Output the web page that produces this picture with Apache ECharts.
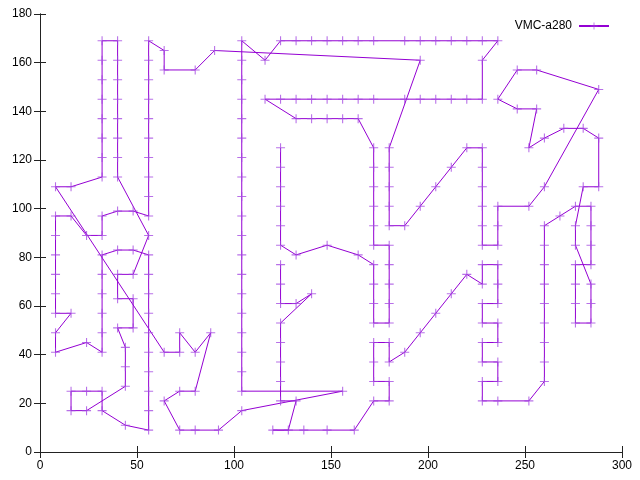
<!DOCTYPE html>
<html><head><meta charset="utf-8">
<script src="https://cdn.jsdelivr.net/npm/echarts@6/dist/echarts.min.js"></script>
<style>html,body{margin:0;padding:0;background:#fff}#c{width:640px;height:480px}</style>
</head><body><div id="c"></div>
<script>
const seriesName = 'VMC-a280';
// tour order, split into consecutive legs ([x, y] city coordinates)
const leg1 = [[124,125],[124,117],[124,109],[124,101],[124,93],[124,85],[132,81],[148,85],[164,81],[172,77],[172,69],[172,61],[172,53],[180,53],[180,61],[180,69],[180,77],[180,85],[172,85],[172,93],[172,101],[172,109],[172,117],[172,125],[164,137],[156,137],[148,137],[140,137],[132,137],[116,145]];
const leg2 = [[124,145],[132,145],[140,145],[148,145],[156,145],[164,145],[172,145],[188,145],[196,145],[204,145],[212,145],[220,145],[228,145],[228,161],[236,169],[228,169],[220,169],[212,169],[204,169],[196,169],[188,169],[172,169],[164,169],[156,169],[148,169],[140,169],[132,169],[124,169],[116,161]];
const leg3 = [[104,169],[104,161],[104,153],[104,145],[104,137],[104,129],[104,121],[104,113],[104,105],[104,97],[104,89],[104,81],[104,73],[104,65],[104,57],[104,49],[104,41],[104,33],[104,25],[156,25],[104,17],[92,9],[80,9],[72,9],[64,21],[72,25],[80,25],[88,49],[80,41],[72,49],[72,41],[64,41]];
const leg4 = [[8,109],[16,109],[32,113],[32,121],[32,129],[32,137],[32,145],[32,153],[32,161],[32,169],[40,169],[40,161],[40,153],[40,145],[40,137],[40,129],[40,121],[40,113],[56,89],[48,73],[40,73],[40,63],[48,63],[48,51],[40,51],[44,43],[44,35],[44,27],[24,17],[16,17],[16,25],[24,25],[32,25],[32,17],[44,11],[56,9],[56,17],[56,25],[56,33],[56,41],[56,49],[56,57],[56,65],[56,73],[56,81],[48,83],[40,83],[32,81],[32,73],[32,65],[32,57],[32,49],[32,41],[24,45],[8,41],[8,49],[16,57],[8,57],[8,65],[8,73],[8,81],[8,89],[8,97],[16,97],[24,89],[32,89],[32,97],[40,99],[48,99],[56,97],[56,105],[56,113],[56,121],[56,129],[56,137],[56,145],[56,153],[56,161],[56,169],[64,165],[64,157],[80,157],[90,165],[196,161]];
const leg5 = [[180,125],[180,117],[180,109],[180,101],[180,93],[188,93],[196,101],[204,109],[212,117],[220,125],[228,125],[228,117],[228,109],[228,101],[228,93],[228,85],[236,85],[236,93],[236,101],[252,101],[260,109],[288,149],[256,157],[246,157],[236,145],[246,141],[256,141],[252,125],[260,129],[270,133],[280,133],[288,129],[288,109],[280,109],[276,93],[276,85],[284,69],[284,61],[284,53],[276,53],[276,61],[276,69],[276,77],[284,77],[284,85],[284,93],[284,101],[276,101],[268,97]];
const leg6 = [[260,93],[260,85],[260,77],[260,69],[260,61],[260,53],[260,45],[260,37],[260,29],[252,21],[236,21],[228,21],[228,29],[236,29],[236,37],[228,37],[228,45],[236,45],[236,53],[228,53],[228,61],[236,61],[236,69],[236,77],[228,77],[228,69],[220,73],[212,65],[204,57],[196,49],[188,41],[180,37],[180,45],[172,45],[172,37],[172,29],[180,29],[180,21],[172,21],[162,9],[148,9],[136,9],[120,9],[128,9],[132,21],[124,21],[124,29],[124,37],[124,45],[124,53],[140,65],[132,61],[124,61],[124,69],[124,77]];
const xTickValues = [0,50,100,150,200,250,300];
const yTickValues = [0,20,40,60,80,100,120,140,160,180];

const pts = [].concat(leg1, leg2, leg3, leg4, leg5, leg6);
const plus = 'path://M-0.12,-1L0.12,-1L0.12,-0.12L1,-0.12L1,0.12L0.12,0.12L0.12,1L-0.12,1L-0.12,0.12L-1,0.12L-1,-0.12L-0.12,-0.12Z';
const font = 'Liberation Sans';
const axisLine = {show:true, lineStyle:{color:'#222', width:1}};
const tick = {show:true, inside:true, length:6, lineStyle:{color:'#222'}};
const chart = echarts.init(document.getElementById('c'), null, {renderer:'canvas'});
chart.setOption({
  animation:false,
  backgroundColor:'#fff',
  grid:{left:40, right:18, top:14, bottom:28, containLabel:false},
  legend:{
    data:[seriesName], right:30, top:20, padding:0, align:'right', itemWidth:30, itemHeight:9, itemGap:0,
    textStyle:{fontFamily:font, fontSize:12, color:'#000', padding:[0,2,0,0]}
  },
  xAxis:[
    {type:'value', min:xTickValues[0], max:xTickValues[xTickValues.length-1], interval:50, position:'bottom',
     axisLine, axisTick:tick, axisLabel:{fontFamily:font, fontSize:12, color:'#000', margin:8}, splitLine:{show:false}},
    {type:'value', min:xTickValues[0], max:xTickValues[xTickValues.length-1], interval:50, position:'top',
     axisLine, axisTick:tick, axisLabel:{show:false}, splitLine:{show:false}}
  ],
  yAxis:[
    {type:'value', min:yTickValues[0], max:yTickValues[yTickValues.length-1], interval:20, position:'left',
     axisLine, axisTick:tick, axisLabel:{fontFamily:font, fontSize:12, color:'#000', margin:8}, splitLine:{show:false}},
    {type:'value', min:yTickValues[0], max:yTickValues[yTickValues.length-1], interval:20, position:'right',
     axisLine, axisTick:tick, axisLabel:{show:false}, splitLine:{show:false}}
  ],
  series:[{
    name:seriesName, type:'line', data:pts, xAxisIndex:0, yAxisIndex:0,
    symbol:plus, symbolSize:9, showAllSymbol:true,
    lineStyle:{color:'#9400d3', width:1},
    itemStyle:{color:'#a040e0', opacity:0.75},
    emphasis:{disabled:true}
  }]
});
</script>
</body></html>
